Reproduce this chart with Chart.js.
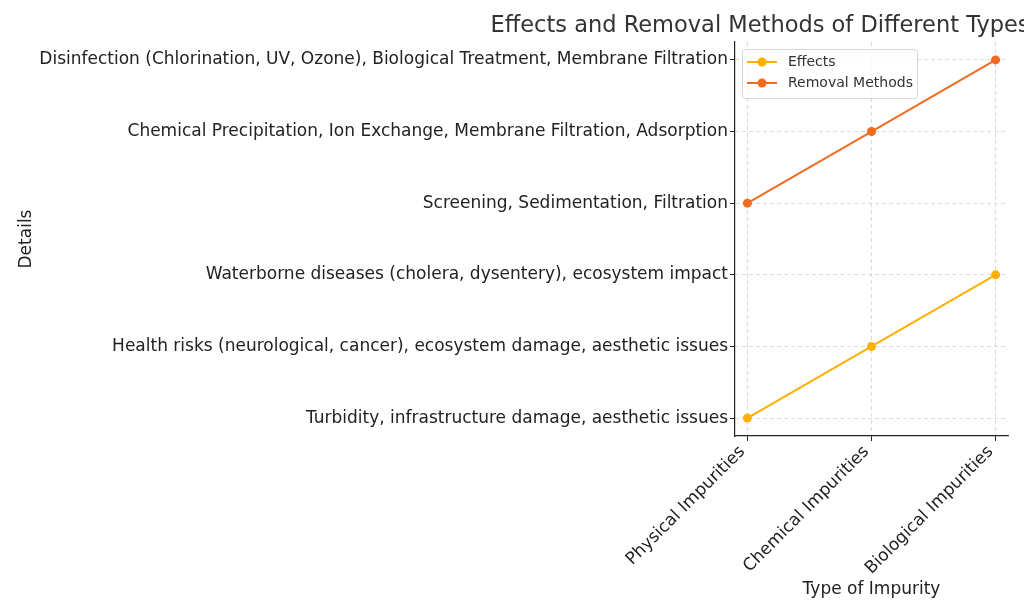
<!DOCTYPE html>
<html>
<head>
<meta charset="utf-8">
<script src="https://cdn.jsdelivr.net/npm/chart.js@4"></script>
<style>
  html, body { margin: 0; padding: 0; background: #fff; }
  #wrap { width: 1024px; height: 614px; }
</style>
</head>
<body>
<div id="wrap"><canvas id="grafico"></canvas></div>
<script>
// categories on the x axis
const impurityTypes = ['Physical Impurities', 'Chemical Impurities', 'Biological Impurities'];

// what each series says for each impurity type
const effects = [
  'Turbidity, infrastructure damage, aesthetic issues',
  'Health risks (neurological, cancer), ecosystem damage, aesthetic issues',
  'Waterborne diseases (cholera, dysentery), ecosystem impact'
];
const removalMethods = [
  'Screening, Sedimentation, Filtration',
  'Chemical Precipitation, Ion Exchange, Membrane Filtration, Adsorption',
  'Disinfection (Chlorination, UV, Ozone), Biological Treatment, Membrane Filtration'
];

// y tick labels, bottom to top
const detailLabels = effects.concat(removalMethods);

const titleText = 'Effects and Removal Methods of Different Types of Water Impurities';
const FONT = '"DejaVu Sans", sans-serif';
const colEffects = '#FFB000';
const colRemoval = '#F26B21';

function toPoints(list) {
  return list.map((d, i) => ({ x: i, y: detailLabels.indexOf(d) }));
}

// title centred over the plot area, legend box inside it
const extras = {
  id: 'extras',
  afterDraw(chart) {
    const { ctx, chartArea } = chart;
    ctx.save();
    ctx.fillStyle = '#333';
    ctx.font = '22.5px ' + FONT;
    ctx.textAlign = 'center';
    ctx.textBaseline = 'alphabetic';
    ctx.fillText(titleText, (chartArea.left + chartArea.right) / 2, 32);

    // legend
    const x0 = chartArea.left + 7, y0 = chartArea.top + 7;
    const w = 175, h = 49;
    ctx.fillStyle = 'rgba(255,255,255,0.8)';
    ctx.strokeStyle = '#d6d6d6';
    ctx.lineWidth = 1;
    ctx.beginPath();
    ctx.roundRect(x0 + 0.5, y0 + 0.5, w, h, 3);
    ctx.fill();
    ctx.stroke();
    const items = [['Effects', colEffects], ['Removal Methods', colRemoval]];
    ctx.font = '14px ' + FONT;
    ctx.textAlign = 'left';
    ctx.textBaseline = 'middle';
    items.forEach((it, i) => {
      const cy = y0 + 13 + i * 21;
      ctx.strokeStyle = it[1];
      ctx.lineWidth = 2;
      ctx.beginPath();
      ctx.moveTo(x0 + 5, cy);
      ctx.lineTo(x0 + 35, cy);
      ctx.stroke();
      ctx.fillStyle = it[1];
      ctx.beginPath();
      ctx.arc(x0 + 20, cy, 4.5, 0, Math.PI * 2);
      ctx.fill();
      ctx.fillStyle = '#333';
      ctx.fillText(it[0], x0 + 46, cy);
    });
    ctx.restore();
  }
};

const ctx = document.getElementById('grafico').getContext('2d');
new Chart(ctx, {
  type: 'line',
  data: {
    datasets: [
      {
        label: 'Effects',
        data: toPoints(effects),
        borderColor: colEffects,
        backgroundColor: colEffects,
        borderWidth: 2,
        pointRadius: 4.5,
        pointHoverRadius: 4.5,
        pointBorderWidth: 0
      },
      {
        label: 'Removal Methods',
        data: toPoints(removalMethods),
        borderColor: colRemoval,
        backgroundColor: colRemoval,
        borderWidth: 2,
        pointRadius: 4.5,
        pointHoverRadius: 4.5,
        pointBorderWidth: 0
      }
    ]
  },
  options: {
    responsive: true,
    maintainAspectRatio: false,
    animation: false,
    layout: { padding: { left: 16, right: 16, top: 42, bottom: 0 } },
    plugins: {
      legend: { display: false },
      title: { display: false },
      tooltip: { enabled: false }
    },
    scales: {
      x: {
        type: 'linear',
        min: -0.1,
        max: impurityTypes.length - 1 + 0.1,
        afterBuildTicks(scale) {
          scale.ticks = impurityTypes.map((_, i) => ({ value: i }));
        },
        afterFit(scale) { scale.height = 178; },
        ticks: {
          callback: v => impurityTypes[v],
          color: '#222',
          font: { family: FONT, size: 17 },
          minRotation: 45,
          maxRotation: 45,
          padding: 1,
          labelOffset: -5
        },
        grid: { color: '#d0d0d0', lineWidth: 0.8, tickColor: '#222', tickLength: 5, tickWidth: 1 },
        border: { color: '#222', width: 1.2, dash: [4, 3] },
        title: {
          display: true,
          text: 'Type of Impurity',
          color: '#222',
          font: { family: FONT, size: 17 },
          padding: { top: 0, bottom: 14 }
        }
      },
      y: {
        type: 'linear',
        min: -0.25,
        max: detailLabels.length - 1 + 0.25,
        afterBuildTicks(scale) {
          scale.ticks = detailLabels.map((_, i) => ({ value: i }));
        },
        afterFit(scale) { scale.width = 719; },
        ticks: {
          callback: v => detailLabels[v],
          color: '#222',
          font: { family: FONT, size: 17 },
          padding: 2
        },
        grid: { color: '#d0d0d0', lineWidth: 0.8, tickColor: '#222', tickLength: 5, tickWidth: 1 },
        border: { color: '#222', width: 1.2, dash: [4, 3] },
        title: {
          display: true,
          text: 'Details',
          color: '#222',
          font: { family: FONT, size: 17 },
          padding: { top: 0, bottom: 0 }
        }
      }
    }
  },
  plugins: [extras]
});
</script>
</body>
</html>
